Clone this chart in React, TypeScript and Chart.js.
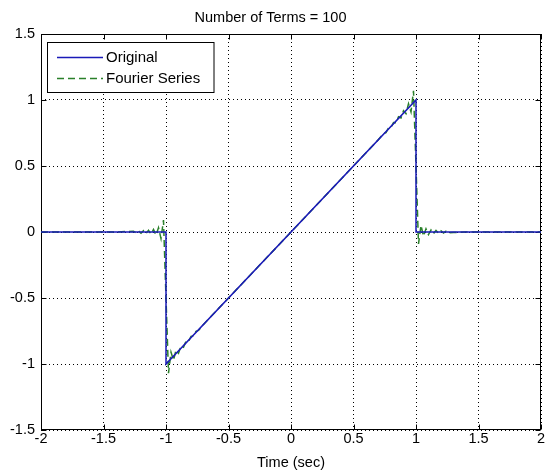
import React, { useEffect, useRef } from "react";
import { Chart, registerables } from "chart.js";

Chart.register(...registerables);

const titleText = "Number of Terms = 100";
const xAxisTitle = "Time (sec)";
const seriesNames = ["Original", "Fourier Series"];

const xTickValues = [-2, -1.5, -1, -0.5, 0, 0.5, 1, 1.5, 2];
const xTickLabels = ["-2", "-1.5", "-1", "-0.5", "0", "0.5", "1", "1.5", "2"];
const yTickValues = [-1.5, -1, -0.5, 0, 0.5, 1, 1.5];
const yTickLabels = ["-1.5", "-1", "-0.5", "0", "0.5", "1", "1.5"];

const originalT = [-2, -1, -1, 1, 1, 2];
const originalY = [0, 0, -1, 1, 0, 0];

const fourierT = [
  -2, -1.6, -1.4, -1.3, -1.26, -1.24, -1.22, -1.2, -1.18, -1.16, -1.14, -1.12, -1.1,
  -1.08, -1.06, -1.04, -1.02, -1.0, -0.98, -0.96, -0.94, -0.92, -0.9, -0.88, -0.86,
  -0.84, -0.82, -0.8, -0.78, -0.76, -0.74, -0.7, -0.5, 0, 0.5, 0.7, 0.74, 0.76, 0.78,
  0.8, 0.82, 0.84, 0.86, 0.88, 0.9, 0.92, 0.94, 0.96, 0.98, 1.0, 1.02, 1.04, 1.06,
  1.08, 1.1, 1.12, 1.14, 1.16, 1.18, 1.2, 1.22, 1.24, 1.26, 1.3, 1.4, 1.6, 2,
];
const fourierY = [
  0, 0, 0, 0.004, 0.006, -0.007, 0.008, -0.009, 0.01, -0.012, 0.013, -0.016, 0.019,
  -0.024, 0.032, -0.05, 0.09, -0.5, -1.07, -0.91, -0.972, -0.896, -0.919, -0.864, -0.873,
  -0.828, -0.83, -0.791, -0.788, -0.753, -0.746, -0.7, -0.5, 0, 0.5, 0.7, 0.746, 0.753, 0.788,
  0.791, 0.83, 0.828, 0.873, 0.864, 0.919, 0.896, 0.972, 0.91, 1.07, 0.5, -0.09, 0.05, -0.032,
  0.024, -0.019, 0.016, -0.013, 0.012, -0.01, 0.009, -0.008, 0.007, -0.006, -0.004, 0, 0, 0,
];

const FONT = "'Liberation Sans', Arial, Helvetica, sans-serif";
const FS = 14.5;
const BLUE = "#1a1ab8";
const GREEN = "#2a802a";

const framePlugin = {
  id: "matlabFrame",
  beforeDatasetsDraw(chart: any) {
    const { ctx, chartArea: a, scales } = chart;
    ctx.save();
    ctx.strokeStyle = "#000";
    ctx.lineWidth = 1;
    ctx.setLineDash([]);
    const L = Math.round(a.left) + 0.5;
    const R = Math.round(a.right) - 0.5;
    const T = Math.round(a.top) + 0.5;
    const B = Math.round(a.bottom) - 0.5;
    ctx.strokeRect(L, T, R - L, B - T);
    ctx.beginPath();
    xTickValues.forEach((v) => {
      const x = Math.round(scales.x.getPixelForValue(v)) + 0.5;
      ctx.moveTo(x, B);
      ctx.lineTo(x, B - 5);
      ctx.moveTo(x, T);
      ctx.lineTo(x, T + 5);
    });
    yTickValues.forEach((v) => {
      const y = Math.round(scales.y.getPixelForValue(v)) + 0.5;
      ctx.moveTo(L, y);
      ctx.lineTo(L + 5, y);
      ctx.moveTo(R, y);
      ctx.lineTo(R - 5, y);
    });
    ctx.stroke();
    ctx.restore();
  },
  afterDatasetsDraw(chart: any) {
    const { ctx } = chart;
    ctx.save();
    ctx.font = `15px ${FONT}`;
    const textX = 106;
    const bx = 47.5, by = 42.5;
    const bw = 214 - bx;
    const bh = 50;
    ctx.fillStyle = "#fff";
    ctx.fillRect(bx, by, bw, bh);
    ctx.strokeStyle = "#000";
    ctx.lineWidth = 1;
    ctx.setLineDash([]);
    ctx.strokeRect(bx, by, bw, bh);
    const rows = [57.5, 78.5];
    const colors = [BLUE, GREEN];
    const dashes = [[], [7, 4]];
    rows.forEach((ry, i) => {
      ctx.beginPath();
      ctx.strokeStyle = colors[i];
      ctx.lineWidth = 1.5;
      ctx.setLineDash(dashes[i]);
      ctx.moveTo(57, ry);
      ctx.lineTo(103, ry);
      ctx.stroke();
      ctx.setLineDash([]);
      ctx.fillStyle = "#000";
      ctx.textBaseline = "middle";
      ctx.textAlign = "left";
      ctx.fillText(seriesNames[i], textX, ry);
    });
    ctx.restore();
  },
};

export default function App() {
  const ref = useRef<HTMLCanvasElement | null>(null);
  useEffect(() => {
    document.body.style.margin = "0";
    const canvas = ref.current!;
    const chart = new Chart(canvas, {
      type: "line",
      data: {
        datasets: [
          {
            label: seriesNames[0],
            data: originalT.map((t, i) => ({ x: t, y: originalY[i] })),
            borderColor: BLUE,
            borderWidth: 1.5,
            pointRadius: 0,
            tension: 0,
            fill: false,
          },
          {
            label: seriesNames[1],
            data: fourierT.map((t, i) => ({ x: t, y: fourierY[i] })),
            borderColor: GREEN,
            borderWidth: 1.5,
            borderDash: [7, 4],
            pointRadius: 0,
            tension: 0,
            fill: false,
          },
        ],
      },
      options: {
        animation: false,
        responsive: false,
        devicePixelRatio: 1,
        layout: { padding: { left: 0, right: 6, top: 0, bottom: 0 } },
        plugins: {
          legend: { display: false },
          tooltip: { enabled: false },
          title: {
            display: true,
            text: titleText,
            color: "#000",
            font: { family: FONT, size: FS, weight: "normal" },
            padding: { top: 9, bottom: 7.6 },
          },
        },
        scales: {
          x: {
            type: "linear",
            min: -2,
            max: 2,
            afterBuildTicks: (s: any) => {
              s.ticks = xTickValues.map((v) => ({ value: v }));
            },
            afterFit: (s: any) => {
              s.height = 45;
            },
            ticks: {
              color: "#000",
              font: { family: FONT, size: FS },
              padding: 0,
              maxRotation: 0,
              autoSkip: false,
              callback: (v: any) => xTickLabels[xTickValues.indexOf(Number(v))] ?? "",
            },
            grid: { color: "#000", lineWidth: 1, drawTicks: false },
            border: { display: false, dash: [1, 3] },
            title: {
              display: true,
              text: xAxisTitle,
              color: "#000",
              font: { family: FONT, size: FS },
              padding: { top: 0, bottom: 3 },
            },
          },
          y: {
            type: "linear",
            min: -1.5,
            max: 1.5,
            afterBuildTicks: (s: any) => {
              s.ticks = yTickValues.map((v) => ({ value: v }));
            },
            afterFit: (s: any) => {
              s.width = 41;
            },
            ticks: {
              color: "#000",
              font: { family: FONT, size: FS },
              padding: 6,
              autoSkip: false,
              callback: (v: any) => yTickLabels[yTickValues.indexOf(Number(v))] ?? "",
            },
            grid: { color: "#000", lineWidth: 1, drawTicks: false },
            border: { display: false, dash: [1, 3] },
          },
        },
      },
      plugins: [framePlugin],
    } as any);
    return () => chart.destroy();
  }, []);
  return (
    <div style={{ position: "absolute", left: 0, top: 0, width: 547, height: 475, background: "#fff" }}>
      <canvas ref={ref} width={547} height={475} style={{ width: 547, height: 475, display: "block" }} />
    </div>
  );
}
